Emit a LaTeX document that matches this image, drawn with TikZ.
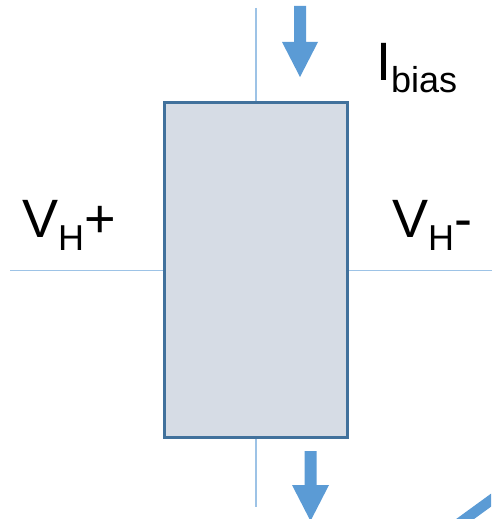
\documentclass[tikz,border=0pt]{standalone}
\usepackage{fontspec}
\setmainfont{Liberation Sans}
\definecolor{boxfill}{HTML}{D6DCE5}
\definecolor{boxedge}{HTML}{41719C}
\definecolor{wire}{HTML}{9DC3E6}
\definecolor{flow}{HTML}{5B9BD5}
\begin{document}
\begin{tikzpicture}[x=1pt,y=-1pt,
  hallbox/.style={draw=boxedge,fill=boxfill,line width=3pt,minimum width=183.5pt,minimum height=334.5pt,inner sep=0pt},
  wireline/.style={draw=wire,line width=1.6pt},
  flowarrow/.style={fill=flow},
  lbl/.style={inner sep=0pt,anchor=base west,font=\fontsize{54}{60}\selectfont},
  sub/.style={}]
\useasboundingbox (0,0) rectangle (491,519);
\newcommand{\subtxt}[1]{\raisebox{-13pt}{\fontsize{36}{40}\selectfont #1}}
% wires
\coordinate (topend) at (256,8);
\coordinate (botend) at (256,507);
\coordinate (leftend) at (10,270.5);
\coordinate (rightend) at (495,270.5);
\node[hallbox] (hall) at (255.75,269.75) {};
\draw[wireline] (topend) -- (topend |- hall.north);
\draw[wireline] (botend |- hall.south) -- (botend);
\draw[wireline] (leftend) -- (leftend -| hall.west);
\draw[wireline] (leftend -| hall.east) -- (rightend);
\node[hallbox] at (hall) {};
% arrows
\fill[flowarrow] (294,6) -- (306,6) -- (306,42) -- (318,42) -- (300,77) -- (282,42) -- (294,42) -- cycle;
\fill[flowarrow] (304.5,451) -- (316.5,451) -- (316.5,485) -- (329,485) -- (310.5,521) -- (292,485) -- (304.5,485) -- cycle;
% diagonal
\begin{scope}
\clip (0,0) rectangle (491,519);
\draw[flow,line width=10.5pt] (450,530) -- (505,490);
\end{scope}
% labels
\node[lbl] (ibias) at (376,80) {I\subtxt{bias}};
\node[lbl] (vhp) at (22,237) {V\subtxt{H}+};
\node[lbl] (vhm) at (392,237) {V\subtxt{H}-};
\end{tikzpicture}
\end{document}
